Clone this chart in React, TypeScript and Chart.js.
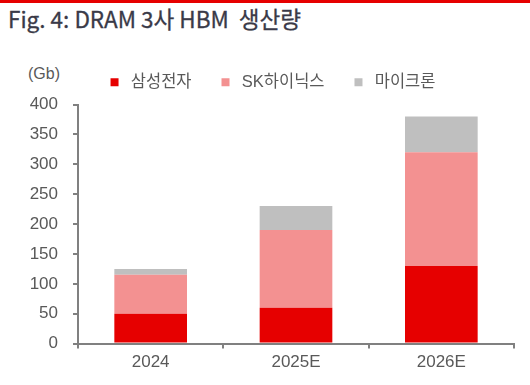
import React, { useEffect, useRef } from "react";
import { Chart, registerables } from "chart.js";

Chart.register(...registerables);

const categories = ["2024", "2025E", "2026E"];
const seriesNames = ["삼성전자", "SK하이닉스", "마이크론"];
const samsung = [50, 60, 130];
const skhynix = [65, 130, 190];
const micron = [10, 40, 60];
const yTicks = [0, 50, 100, 150, 200, 250, 300, 350, 400];
const unitLabel = "(Gb)";
const titleText = "Fig. 4: DRAM 3사 HBM  생산량";

const COLORS = ["#E60000", "#F39191", "#BFBFBF"];
const TICK_COLOR = "#595959";
const AXIS_COLOR = "#808080";
const FONT = '"Liberation Sans", "Noto Sans CJK KR", sans-serif';

const legendNudge = {
  id: "legendNudge",
  afterLayout(chart: any) {
    const l = chart.legend;
    if (l) {
      l.top -= 4;
      l.bottom -= 4;
    }
  },
};

export default function App() {
  const ref = useRef<HTMLCanvasElement>(null);

  useEffect(() => {
    const canvas = ref.current;
    if (!canvas) return;
    const data = [samsung, skhynix, micron];
    const chart = new Chart(canvas, {
      type: "bar",
      data: {
        labels: categories,
        datasets: seriesNames.map((name, i) => ({
          label: name,
          data: data[i],
          backgroundColor: COLORS[i],
          borderWidth: 0,
          barPercentage: 0.5,
          categoryPercentage: 1,
        })),
      },
      plugins: [legendNudge],
      options: {
        responsive: false,
        devicePixelRatio: 1,
        animation: false,
        layout: { padding: { left: 28, right: 16, top: 52, bottom: 8 } },
        plugins: {
          tooltip: { enabled: false },
          legend: {
            position: "top",
            labels: {
              usePointStyle: true,
              pointStyle: "rect",
              boxWidth: 16,
              boxHeight: 8,
              padding: 26,
              color: TICK_COLOR,
              font: { family: FONT, size: 16.5 },
            },
          },
        },
        scales: {
          x: {
            stacked: true,
            grid: {
              offset: true,
              drawOnChartArea: false,
              drawTicks: true,
              tickLength: 5,
              color: AXIS_COLOR,
              lineWidth: 2,
            },
            border: { color: AXIS_COLOR, width: 2 },
            ticks: {
              color: TICK_COLOR,
              font: { family: FONT, size: 17 },
              padding: 4,
            },
          },
          y: {
            stacked: true,
            min: 0,
            max: 400,
            afterFit: (s: any) => {
              s.width = 50;
            },
            afterBuildTicks: (s: any) => {
              s.ticks = yTicks.map((v) => ({ value: v }));
            },
            grid: {
              drawOnChartArea: false,
              drawTicks: true,
              tickLength: 5,
              color: AXIS_COLOR,
              lineWidth: 2,
            },
            border: { color: AXIS_COLOR, width: 2 },
            ticks: {
              color: TICK_COLOR,
              font: { family: FONT, size: 17 },
              padding: 15,
            },
          },
        },
      },
    });
    return () => chart.destroy();
  }, []);

  return (
    <div
      style={{
        position: "fixed",
        left: 0,
        top: 0,
        width: 530,
        height: 385,
        background: "#fff",
        overflow: "hidden",
      }}
    >
      <div
        style={{
          position: "absolute",
          left: 0,
          top: 0,
          width: 530,
          height: 3,
          background: "#E60000",
        }}
      />
      <div
        style={{
          position: "absolute",
          left: 8,
          top: 3,
          fontFamily: '"Noto Sans CJK KR", sans-serif',
          fontSize: 22.5,
          fontWeight: 400,
          color: "#3a3a48",
          whiteSpace: "pre",
          lineHeight: "30px",
          WebkitTextStroke: "0.3px #3a3a48",
        }}
      >
        {titleText}
      </div>
      <div
        style={{
          position: "absolute",
          left: 28,
          top: 64,
          fontFamily: FONT,
          fontSize: 16,
          color: TICK_COLOR,
          lineHeight: "20px",
        }}
      >
        {unitLabel}
      </div>
      <canvas
        ref={ref}
        width={530}
        height={385}
        style={{ position: "absolute", left: 0, top: 0, width: 530, height: 385 }}
      />
    </div>
  );
}
